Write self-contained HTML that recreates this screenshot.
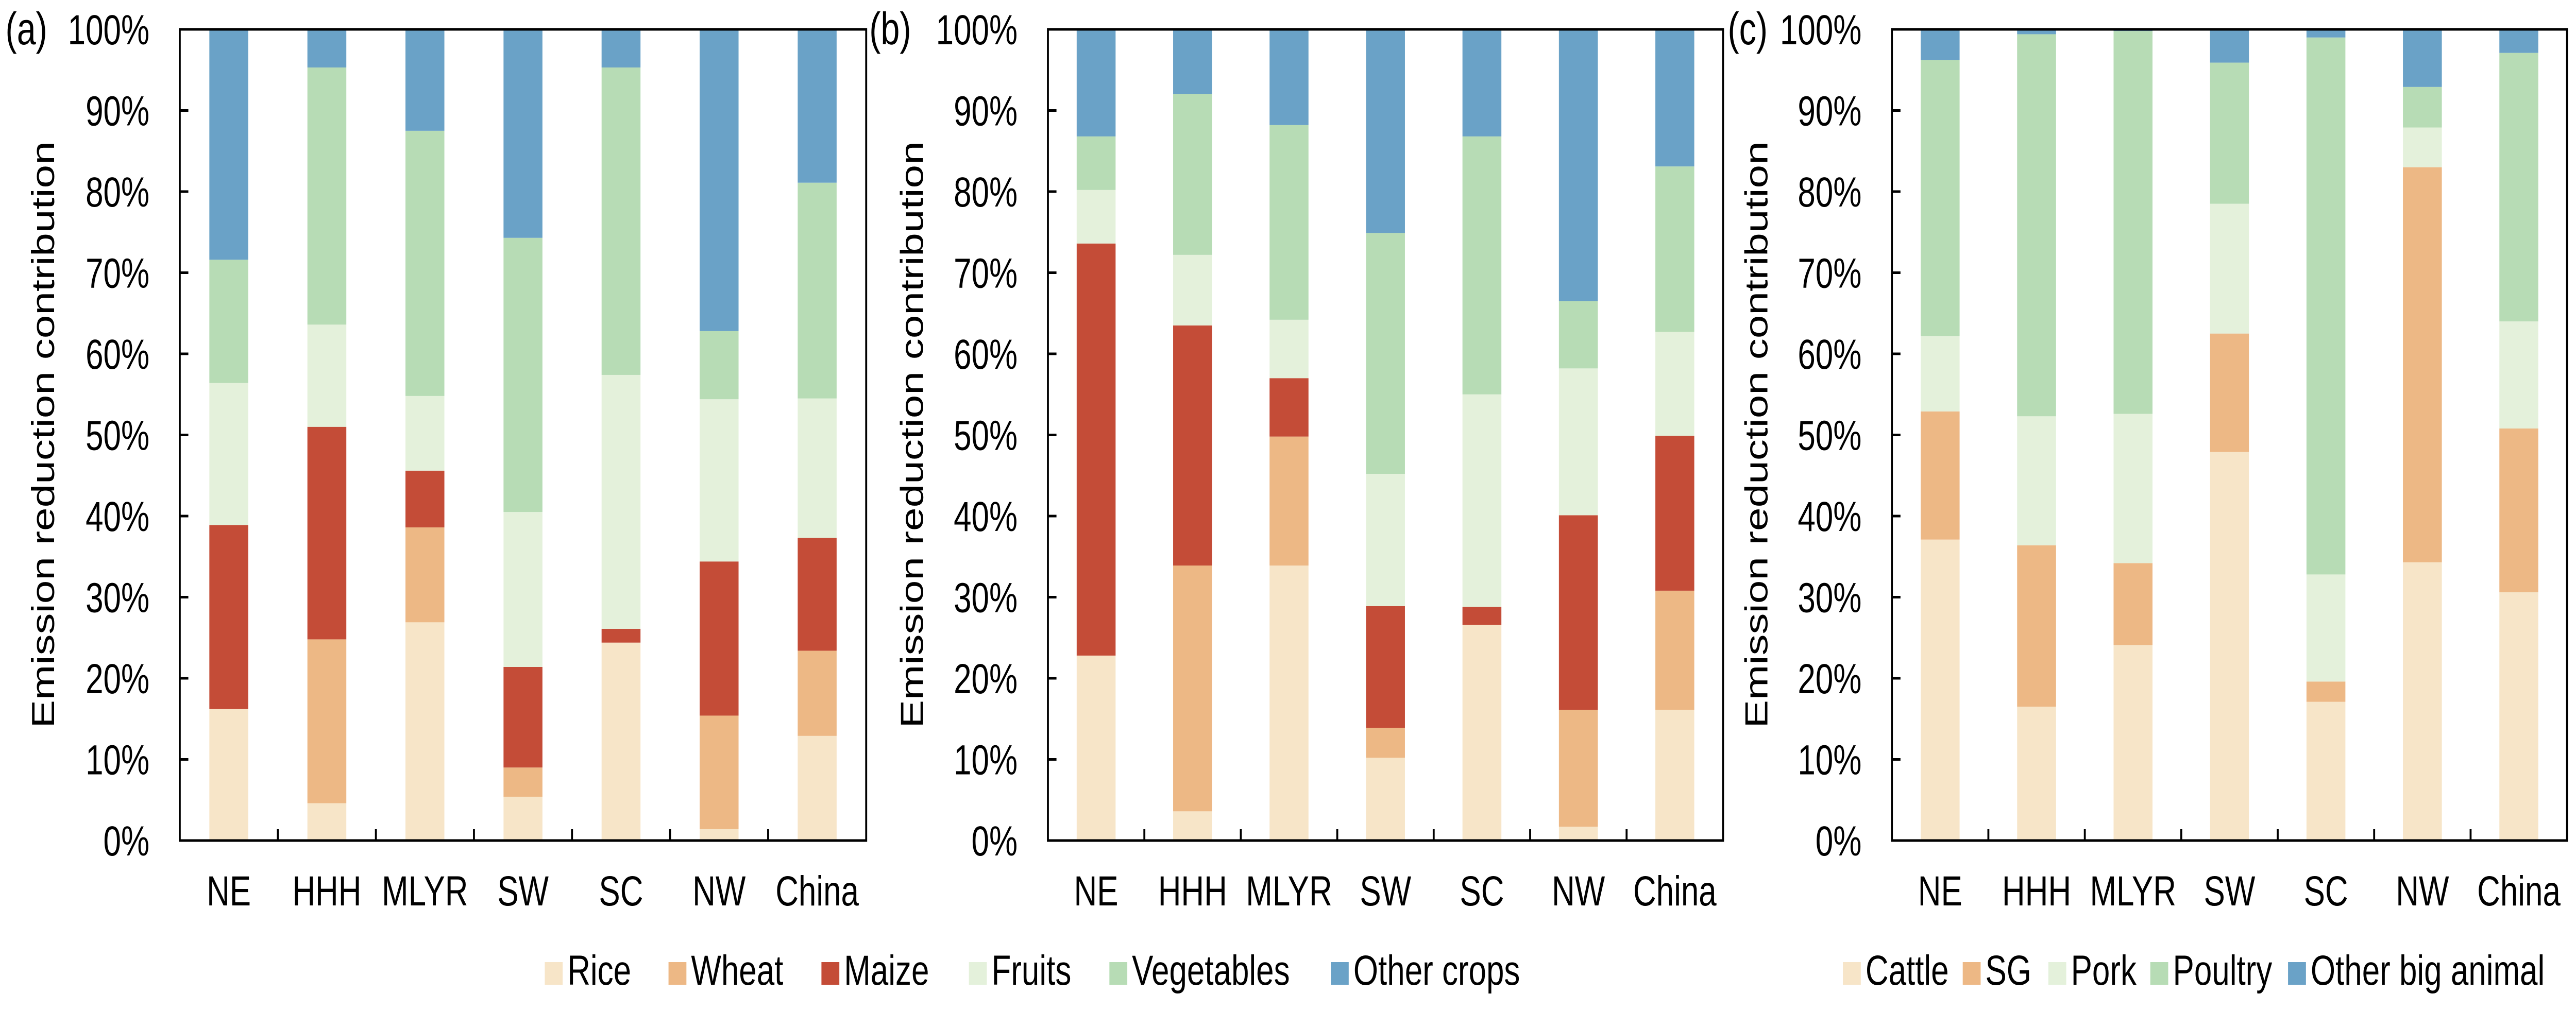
<!DOCTYPE html>
<html><head><meta charset="utf-8"><style>
html,body{margin:0;padding:0;background:#fff;width:100%;height:100%;overflow:hidden;}
svg{display:block;width:100vw;height:100vh;font-family:"Liberation Sans",Arial,sans-serif;}
</style></head><body>
<svg id="fig" viewBox="0 0 6620 1963" preserveAspectRatio="none" xmlns="http://www.w3.org/2000/svg"></svg>
<script>
const categories = ["NE","HHH","MLYR","SW","SC","NW","China"];
const tickLabels = ["0%","10%","20%","30%","40%","50%","60%","70%","80%","90%","100%"];
const cropSeries = ["Rice","Wheat","Maize","Fruits","Vegetables","Other crops"];
const animalSeries = ["Cattle","SG","Pork","Poultry","Other big animal"];
// panel (a) segment values per series (percent)
const aRice  = [16.2, 4.6, 26.9, 5.4, 24.4, 1.4, 12.9];
const aWheat = [0.0, 20.2, 11.7, 3.6, 0.0, 14.0, 10.5];
const aMaize = [22.7, 26.2, 7.0, 12.4, 1.7, 19.0, 13.9];
const aFruit = [17.5, 12.6, 9.2, 19.1, 31.3, 20.0, 17.2];
const aVeg   = [15.2, 31.7, 32.7, 33.8, 37.9, 8.4, 26.6];
const aOther = [28.4, 4.7, 12.5, 25.7, 4.7, 37.2, 18.9];
// panel (b)
const bRice  = [22.8, 3.6, 33.9, 10.2, 26.6, 1.7, 16.1];
const bWheat = [0.0, 30.3, 15.9, 3.7, 0.0, 14.4, 14.7];
const bMaize = [50.8, 29.6, 7.2, 15.0, 2.2, 24.0, 19.1];
const bFruit = [6.6, 8.7, 7.2, 16.3, 26.2, 18.1, 12.8];
const bVeg   = [6.6, 19.8, 24.0, 29.7, 31.8, 8.3, 20.4];
const bOther = [13.2, 8.0, 11.8, 25.1, 13.2, 33.5, 16.9];
// panel (c)
const cCattle  = [37.1, 16.5, 24.1, 47.9, 17.1, 34.3, 30.6];
const cSG      = [15.8, 19.9, 10.1, 14.6, 2.5, 48.7, 20.2];
const cPork    = [9.3, 15.9, 18.4, 16.0, 13.2, 4.9, 13.2];
const cPoultry = [34.0, 47.1, 47.2, 17.4, 66.2, 5.0, 33.1];
const cOther   = [3.8, 0.6, 0.2, 4.1, 1.0, 7.1, 2.9];

const NS="http://www.w3.org/2000/svg";
const svg=document.getElementById('fig');
const colors6=["#F7E5C8","#EDB885","#C44C37","#E4F1DB","#B7DCB5","#6AA2C7"];
const colors5=["#F7E5C8","#EDB885","#E4F1DB","#B7DCB5","#6AA2C7"];
const FS=82;
function mk(tag,attrs,parent){const e=document.createElementNS(NS,tag);for(const k in attrs)e.setAttribute(k,attrs[k]);(parent||svg).appendChild(e);return e;}

function panel(opt){
  const g=mk('g',{});
  
  
  const top=57, bottom=1632, L=opt.left, R=opt.right;
  const y=v=>bottom-(bottom-top)*v/100;
  const step=(R-L)/categories.length;
  const xc=i=>L+step*(i+0.5);
  const bw=100;
  categories.forEach((c,i)=>{
    let acc=0;
    opt.series.forEach((arr,s)=>{
      const v=arr[i];
      const r=mk('rect',{x:xc(i)-bw/2,y:y(acc+v),width:bw,height:Math.max(0,y(acc)-y(acc+v)),fill:opt.colors[s]},g);
      
      
      acc+=v;
    });
    const t=mk('text',{x:xc(i),y:1758,'font-size':FS,'text-anchor':'middle',fill:'#000'},g);
    t.textContent=c;
    
    
  });
  const fr=mk('rect',{x:L,y:top,width:R-L,height:bottom-top,fill:'none',stroke:'#000','stroke-width':5},g);
  
  
  tickLabels.forEach((lab,k)=>{
    const yy=y(k*10);
    if(k>0&&k<10){const tl=mk('line',{x1:L,x2:L+22,y1:yy,y2:yy,stroke:'#000','stroke-width':5},g);
      
      }
    const t=mk('text',{x:L-78,y:yy+29,'font-size':FS,'text-anchor':'end',fill:'#000'},g);
    t.textContent=lab;
    
    
  });
  for(let i=1;i<categories.length;i++){
    const xx=L+step*i;
    const tl=mk('line',{x1:xx,x2:xx,y1:bottom,y2:bottom-22,stroke:'#000','stroke-width':5},g);
    
    
  }
  const yt=mk('text',{x:0,y:0,'font-size':FS,'text-anchor':'middle',fill:'#000',transform:`translate(${opt.titleX},844) rotate(-90)`},g);
  yt.textContent='Emission reduction contribution';
  
  
  const pl=mk('text',{x:opt.labelX,y:86,'font-size':88,fill:'#000'},g);
  pl.textContent=opt.panelLabel;
  
  
}

panel({name:'panel-a-crops',left:462,right:2226,titleX:139,labelX:14,panelLabel:'(a)',
  series:[aRice,aWheat,aMaize,aFruit,aVeg,aOther],colors:colors6,labels:cropSeries});
panel({name:'panel-b-crops',left:2693,right:4428,titleX:2372,labelX:2234,panelLabel:'(b)',
  series:[bRice,bWheat,bMaize,bFruit,bVeg,bOther],colors:colors6,labels:cropSeries});
panel({name:'panel-c-livestock',left:4862,right:6597,titleX:4542,labelX:4440,panelLabel:'(c)',
  series:[cCattle,cSG,cPork,cPoultry,cOther],colors:colors5,labels:animalSeries});

function legend(labels,cols,xs,name){
  const g=mk('g',{});
  
  
  labels.forEach((lab,i)=>{
    const e=mk('g',{},g);
    
    
    mk('rect',{x:xs[i],y:1868,width:46,height:44,fill:cols[i]},e);
    const t=mk('text',{x:xs[i]+58,y:1912,'font-size':FS,fill:'#000'},e);
    t.textContent=lab;
  });
}
legend(cropSeries,colors6,[1400,1718,2111,2490,2851,3420],'legend-crops');
legend(animalSeries,colors5,[4736,5044,5264,5526,5880],'legend-livestock');
</script>
</body></html>
